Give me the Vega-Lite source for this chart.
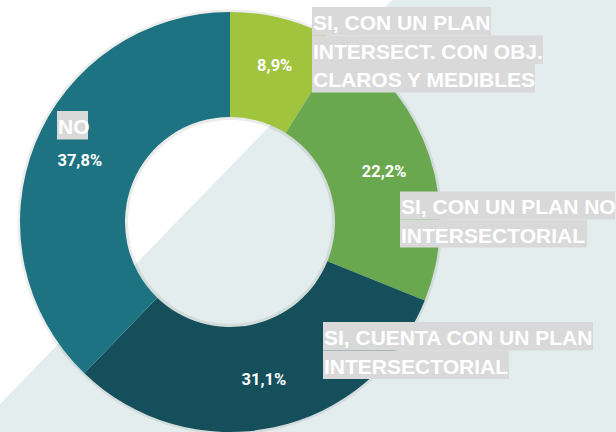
{
  "$schema": "https://vega.github.io/schema/vega-lite/v6.json",
  "width": 420,
  "height": 420,
  "autosize": {"type": "none"},
  "padding": {"left": 20, "top": 12, "right": 176, "bottom": 0},
  "background": "#ffffff",
  "config": {"view": {"stroke": null}},
  "datasets": {
    "slices": [
      {"idx": 1, "cat": "SI, CON UN PLAN INTERSECT. CON OBJ. CLAROS Y MEDIBLES", "value": 8.9, "label": "8,9%"},
      {"idx": 2, "cat": "SI, CON UN PLAN NO INTERSECTORIAL", "value": 22.2, "label": "22,2%"},
      {"idx": 3, "cat": "SI, CUENTA CON UN PLAN INTERSECTORIAL", "value": 31.1, "label": "31,1%"},
      {"idx": 4, "cat": "NO", "value": 37.8, "label": "37,8%"}
    ],
    "backdrop": [
      {"bx": 0, "by": 404},
      {"bx": 58, "by": 344},
      {"bx": 392, "by": 0},
      {"bx": 616, "by": 0}
    ],
    "one": [{"k": 1}],
    "full": [{"v": 100}]
  },
  "layer": [
    {
      "data": {"name": "backdrop"},
      "mark": {"type": "area", "color": "#e4eded", "interpolate": "linear"},
      "encoding": {
        "x": {"field": "bx", "type": "quantitative", "scale": {"domain": [20, 440], "nice": false, "zero": false}, "axis": null},
        "y": {"field": "by", "type": "quantitative", "stack": null, "scale": {"domain": [12, 432], "nice": false, "zero": false, "reverse": true}, "axis": null},
        "y2": {"datum": 432}
      }
    },
    {
      "data": {"name": "full"},
      "mark": {"type": "arc", "radius": 212.5, "radius2": 207, "color": "#000000", "opacity": 0.07},
      "encoding": {"theta": {"field": "v", "type": "quantitative"}}
    },
    {
      "data": {"name": "full"},
      "mark": {"type": "arc", "radius": 108, "radius2": 102, "color": "#000000", "opacity": 0.08},
      "encoding": {"theta": {"field": "v", "type": "quantitative"}}
    },
    {
      "data": {"name": "slices"},
      "mark": {"type": "arc", "radius": 210, "radius2": 105, "stroke": null},
      "encoding": {
        "theta": {"field": "value", "type": "quantitative", "stack": true},
        "order": {"field": "idx", "type": "quantitative"},
        "color": {
          "field": "cat",
          "type": "nominal",
          "sort": null,
          "scale": {
            "domain": ["SI, CON UN PLAN INTERSECT. CON OBJ. CLAROS Y MEDIBLES", "SI, CON UN PLAN NO INTERSECTORIAL", "SI, CUENTA CON UN PLAN INTERSECTORIAL", "NO"],
            "range": ["#a1c43f", "#6aa84f", "#154f5c", "#1e7382"]
          },
          "legend": null
        }
      }
    },
    {
      "data": {"name": "slices"},
      "mark": {"type": "text", "radius": 162, "color": "#ffffff", "font": "Roboto", "fontSize": 16.5, "fontWeight": "bold", "align": "center", "baseline": "middle"},
      "encoding": {
        "theta": {"field": "value", "type": "quantitative", "stack": true},
        "order": {"field": "idx", "type": "quantitative"},
        "text": {"field": "label", "type": "nominal"}
      }
    },
    {"data": {"name": "one"}, "mark": {"type": "rect", "color": "#d9d9d9"}, "encoding": {"x": {"datum": 312}, "x2": {"datum": 491}, "y": {"datum": 7}, "y2": {"datum": 35.5}}},
    {"data": {"name": "one"}, "mark": {"type": "rect", "color": "#d9d9d9"}, "encoding": {"x": {"datum": 312}, "x2": {"datum": 543}, "y": {"datum": 35.5}, "y2": {"datum": 64}}},
    {"data": {"name": "one"}, "mark": {"type": "rect", "color": "#d9d9d9"}, "encoding": {"x": {"datum": 312}, "x2": {"datum": 535}, "y": {"datum": 64}, "y2": {"datum": 92.5}}},
    {"data": {"name": "one"}, "mark": {"type": "rect", "color": "#d9d9d9"}, "encoding": {"x": {"datum": 57}, "x2": {"datum": 88}, "y": {"datum": 111}, "y2": {"datum": 139.5}}},
    {"data": {"name": "one"}, "mark": {"type": "rect", "color": "#d9d9d9"}, "encoding": {"x": {"datum": 400}, "x2": {"datum": 615}, "y": {"datum": 191.5}, "y2": {"datum": 219.5}}},
    {"data": {"name": "one"}, "mark": {"type": "rect", "color": "#d9d9d9"}, "encoding": {"x": {"datum": 400}, "x2": {"datum": 587}, "y": {"datum": 219.5}, "y2": {"datum": 247.5}}},
    {"data": {"name": "one"}, "mark": {"type": "rect", "color": "#d9d9d9"}, "encoding": {"x": {"datum": 323}, "x2": {"datum": 593}, "y": {"datum": 322}, "y2": {"datum": 350.5}}},
    {"data": {"name": "one"}, "mark": {"type": "rect", "color": "#d9d9d9"}, "encoding": {"x": {"datum": 323}, "x2": {"datum": 509}, "y": {"datum": 350.5}, "y2": {"datum": 379}}},
    {
      "data": {"name": "one"},
      "mark": {"type": "text", "color": "#ffffff", "font": "Liberation Sans", "fontSize": 21, "fontWeight": "bold", "align": "left", "baseline": "alphabetic", "lineHeight": 28.5},
      "encoding": {"x": {"datum": 313}, "y": {"datum": 30}, "text": {"value": ["SI, CON UN PLAN", "INTERSECT. CON OBJ.", "CLAROS Y MEDIBLES"]}}
    },
    {
      "data": {"name": "one"},
      "mark": {"type": "text", "color": "#ffffff", "font": "Liberation Sans", "fontSize": 21, "fontWeight": "bold", "align": "left", "baseline": "alphabetic", "lineHeight": 28.5},
      "encoding": {"x": {"datum": 58}, "y": {"datum": 134}, "text": {"value": "NO"}}
    },
    {
      "data": {"name": "one"},
      "mark": {"type": "text", "color": "#ffffff", "font": "Liberation Sans", "fontSize": 21, "fontWeight": "bold", "align": "left", "baseline": "alphabetic", "lineHeight": 28.5},
      "encoding": {"x": {"datum": 401}, "y": {"datum": 214}, "text": {"value": ["SI, CON UN PLAN NO", "INTERSECTORIAL"]}}
    },
    {
      "data": {"name": "one"},
      "mark": {"type": "text", "color": "#ffffff", "font": "Liberation Sans", "fontSize": 21, "fontWeight": "bold", "align": "left", "baseline": "alphabetic", "lineHeight": 28.5},
      "encoding": {"x": {"datum": 324}, "y": {"datum": 345}, "text": {"value": ["SI, CUENTA CON UN PLAN", "INTERSECTORIAL"]}}
    }
  ]
}
